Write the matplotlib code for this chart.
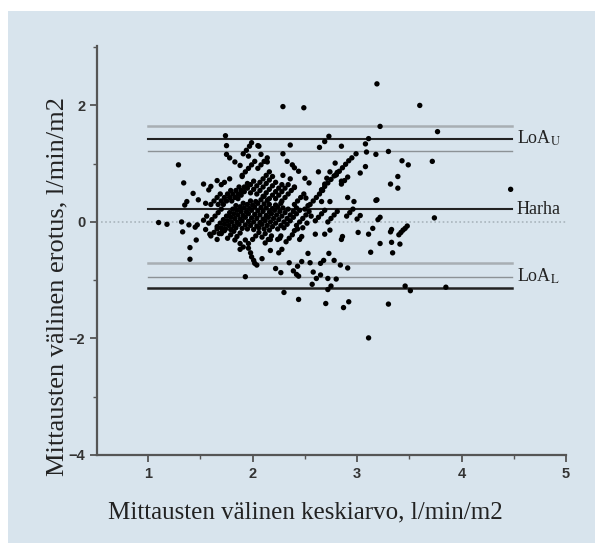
import matplotlib
matplotlib.use("Agg")
import matplotlib.pyplot as plt
from matplotlib.patches import Rectangle
from matplotlib.ticker import MultipleLocator

plt.rcParams['mathtext.fontset'] = 'stix'

# ---- data -------------------------------------------------------------
# sparse / outlying points (mean, difference)
pts_sparse = [
    (3.19, 2.37), (2.29, 1.98), (2.49, 1.96), (3.60, 2.00), (3.22, 1.64), (3.77, 1.55),
    (1.74, 1.48), (3.30, 1.21), (3.43, 1.05), (3.49, 0.98), (3.72, 1.04), (3.39, 0.78),
    (3.32, 0.65), (3.39, 0.58), (4.47, 0.56), (3.74, 0.07), (3.19, 0.38), (3.32, -0.17),
    (3.33, -0.13), (3.40, -0.22), (3.42, -0.18), (3.44, -0.14), (3.46, -0.11), (3.48, -0.07),
    (3.33, -0.35), (3.41, -0.38), (3.34, -0.53), (3.46, -1.10), (3.51, -1.18), (3.85, -1.12),
    (3.30, -1.41), (3.11, -1.99), (2.30, -1.21), (2.44, -1.33), (2.70, -1.40), (2.87, -1.47),
    (2.92, -1.37), (2.72, -1.16), (2.75, -1.10), (2.57, -1.07), (2.61, -0.97), (2.65, -0.91),
    (2.72, -0.97), (2.80, -0.98), (2.44, -0.93), (2.42, -0.90), (2.39, -0.84), (2.43, -0.76),
    (2.47, -0.68), (2.53, -0.54), (2.35, -0.70), (2.22, -0.80), (2.27, -0.87), (2.55, -0.70),
    (2.58, -0.86), (2.65, -0.71), (2.68, -0.66), (2.73, -0.54), (2.78, -0.66), (2.84, -0.74),
    (2.91, -0.79), (2.02, -0.71), (2.09, -0.63), (2.17, -0.49), (2.25, -0.53), (2.28, -0.47),
    (2.26, -0.28), (2.17, -0.30), (2.45, -0.30), (2.47, -0.25), (2.60, -0.21), (2.69, -0.21),
    (2.74, -0.14), (2.85, -0.30), (2.86, -0.25), (3.01, -0.18), (3.11, -0.21), (3.15, -0.11),
    (3.22, -0.37), (3.13, -0.52), (3.20, 0.04), (3.22, 0.08),
]
pts_left = [
    (1.10, -0.01), (1.18, -0.04), (1.32, 0.00), (1.39, -0.05), (1.33, -0.17), (1.46, -0.31),
    (1.40, -0.44), (1.40, -0.64), (1.45, -0.09), (1.47, -0.05), (1.53, 0.03), (1.56, 0.10),
    (1.55, -0.13), (1.59, -0.21), (1.66, -0.30), (1.70, -0.20), (1.73, -0.15), (1.83, -0.31),
    (1.88, -0.37), (1.88, -0.47), (1.91, -0.43), (1.96, -0.45), (1.98, -0.53), (1.99, -0.60),
    (2.01, -0.66), (2.04, -0.74), (1.93, -0.94), (1.93, -0.31), (1.96, -0.37),
    (1.75, 1.31), (1.75, 1.16), (1.78, 1.10), (1.83, 1.03), (1.88, 0.97), (1.29, 0.98),
    (1.34, 0.67), (1.53, 0.65), (1.58, 0.55), (1.60, 0.61), (1.66, 0.71), (1.70, 0.64),
    (1.73, 0.68), (1.78, 0.74), (1.43, 0.49), (1.48, 0.38), (1.37, 0.35), (1.35, 0.29),
    (1.55, 0.32), (1.90, 0.78), (1.91, 1.17), (1.94, 1.23), (1.97, 1.30), (1.99, 1.36),
    (1.96, 1.13), (2.05, 1.31),
]
pts_upper = [
    (2.73, 1.47), (2.69, 1.38), (2.64, 1.28), (2.85, 1.30), (3.11, 1.43), (3.08, 1.34),
    (3.09, 1.20), (3.18, 1.16), (2.06, 1.30), (2.36, 1.32), (2.08, 1.16), (2.29, 1.17),
    (2.33, 1.04), (2.38, 0.98), (2.40, 0.93), (2.14, 1.03), (2.44, 0.87), (2.29, 0.80),
    (2.36, 0.74), (2.50, 0.75), (2.54, 0.67), (2.40, 0.59), (2.63, 0.86), (2.66, 0.55),
    (2.69, 0.65), (2.71, 0.75), (2.74, 0.86), (2.79, 1.01), (2.80, 0.81), (2.85, 0.70),
    (2.99, 1.17), (3.03, 0.84), (3.08, 0.95), (3.18, 0.37), (2.91, 0.42), (2.97, 0.35),
    (2.66, 0.35), (2.51, 0.41), (2.74, 0.35),
]
pts_core = [
    (1.58, -0.02), (1.61, 0.04), (1.64, 0.10), (1.67, 0.16), (1.70, 0.22),
    (1.66, -0.08), (1.69, -0.02), (1.72, 0.04), (1.75, 0.10), (1.78, 0.16), (1.81, 0.22), (1.84, 0.28),
    (1.74, -0.12), (1.77, -0.06), (1.80, 0.00), (1.83, 0.06), (1.86, 0.12), (1.89, 0.18), (1.92, 0.24),
    (1.95, 0.30), (1.98, 0.36),
    (1.84, -0.10), (1.87, -0.04), (1.90, 0.02), (1.93, 0.08), (1.96, 0.14), (1.99, 0.20), (2.02, 0.26),
    (2.05, 0.32), (2.08, 0.38), (2.11, 0.44),
    (1.95, -0.12), (1.98, -0.06), (2.01, 0.00), (2.04, 0.06), (2.07, 0.12), (2.10, 0.18), (2.13, 0.24),
    (2.16, 0.30),
    (2.06, -0.10), (2.09, -0.04), (2.12, 0.02), (2.15, 0.08), (2.18, 0.14), (2.21, 0.20), (2.24, 0.26),
    (2.27, 0.32),
    (2.16, -0.14), (2.19, -0.08), (2.22, -0.02), (2.25, 0.04), (2.28, 0.10), (2.31, 0.16), (2.34, 0.22),
    (2.30, -0.10), (2.33, -0.04), (2.36, 0.02), (2.39, 0.08), (2.42, 0.14), (2.45, 0.20),
    (2.42, -0.06), (2.45, 0.00), (2.48, 0.06), (2.51, 0.12), (2.54, 0.18),
    (1.60, 0.30), (1.63, 0.36), (1.66, 0.42), (1.69, 0.48),
    (1.72, 0.30), (1.75, 0.36), (1.78, 0.42), (1.81, 0.48), (1.84, 0.54), (1.87, 0.60),
    (1.86, 0.40), (1.89, 0.46), (1.92, 0.52), (1.95, 0.58), (1.98, 0.64), (2.01, 0.70),
    (1.98, 0.50), (2.01, 0.56), (2.04, 0.62), (2.07, 0.68), (2.10, 0.74), (2.13, 0.80), (2.16, 0.86),
    (2.10, 0.44), (2.13, 0.50), (2.16, 0.56), (2.19, 0.62), (2.22, 0.68),
    (2.22, 0.40), (2.25, 0.46), (2.28, 0.52), (2.31, 0.58), (2.34, 0.64),
    (1.90, 0.80), (1.93, 0.86), (1.96, 0.92), (1.99, 0.98), (2.02, 1.04),
    (2.05, 0.92), (2.08, 0.98), (2.11, 1.04), (2.14, 1.10),
    (1.60, -0.24), (1.63, -0.18), (1.66, -0.12),
    (1.76, -0.28), (1.79, -0.22), (1.82, -0.16),
    (2.00, -0.30), (2.03, -0.24), (2.06, -0.18),
    (2.12, -0.36), (2.15, -0.30), (2.18, -0.24),
    (2.32, -0.34), (2.35, -0.28), (2.38, -0.22),
    (2.55, 0.30), (2.58, 0.36), (2.61, 0.42), (2.64, 0.48), (2.67, 0.54),
    (2.66, 0.55), (2.69, 0.61), (2.72, 0.67), (2.75, 0.73), (2.78, 0.79), (2.81, 0.85),
    (2.80, 0.81), (2.83, 0.87), (2.86, 0.93), (2.89, 0.99), (2.92, 1.05), (2.95, 1.10),
    (2.85, 0.65), (2.88, 0.71), (2.91, 0.77),
    (2.60, 0.02), (2.63, 0.08), (2.66, 0.14), (2.69, 0.20),
    (2.72, 0.00), (2.75, 0.06), (2.78, 0.12), (2.81, 0.18),
    (2.90, 0.10), (2.93, 0.16), (2.96, 0.22),
    (3.00, 0.05), (3.03, 0.11),
]
pts_core_fill = [
    (1.70, -0.10), (1.73, -0.04), (1.76, 0.02), (1.79, 0.08), (1.82, 0.14), (1.85, 0.20), (1.88, 0.26),
    (1.91, 0.32),
    (1.79, -0.13), (1.82, -0.07), (1.85, -0.01), (1.88, 0.05), (1.91, 0.11), (1.94, 0.17), (1.97, 0.23),
    (2.00, 0.29), (2.03, 0.35),
    (1.90, -0.11), (1.93, -0.05), (1.96, 0.01), (1.99, 0.07), (2.02, 0.13), (2.05, 0.19), (2.08, 0.25),
    (2.11, 0.31), (2.14, 0.37),
    (2.01, -0.13), (2.04, -0.07), (2.07, -0.01), (2.10, 0.05), (2.13, 0.11), (2.16, 0.17), (2.19, 0.23),
    (2.22, 0.29),
    (2.11, -0.12), (2.14, -0.06), (2.17, 0.00), (2.20, 0.06), (2.23, 0.12), (2.26, 0.18), (2.29, 0.24),
    (2.24, -0.12), (2.27, -0.06), (2.30, 0.00), (2.33, 0.06), (2.36, 0.12), (2.39, 0.18), (2.42, 0.24),
    (1.67, 0.30), (1.70, 0.36), (1.73, 0.42), (1.76, 0.48), (1.79, 0.54),
    (1.80, 0.36), (1.83, 0.42), (1.86, 0.48), (1.89, 0.54), (1.92, 0.60), (1.95, 0.66),
    (2.04, 0.48), (2.07, 0.54), (2.10, 0.60), (2.13, 0.66), (2.16, 0.72), (2.19, 0.78),
    (2.16, 0.40), (2.19, 0.46), (2.22, 0.52), (2.25, 0.58), (2.28, 0.64),
    (2.28, 0.36), (2.31, 0.42), (2.34, 0.48), (2.37, 0.54), (2.40, 0.60),
    (2.40, 0.30), (2.43, 0.36), (2.46, 0.42), (2.49, 0.48),
    (1.68, -0.20), (1.71, -0.14), (1.85, -0.25), (1.88, -0.19), (2.09, -0.26), (2.12, -0.20),
    (2.24, -0.30), (2.27, -0.24), (2.40, -0.15), (2.43, -0.12),
    (2.50, 0.22), (2.53, 0.28), (2.56, 0.10), (2.48, -0.10), (2.52, -0.02),
]

bias = 0.22
loa_upper = [1.655, 1.43, 1.21]   # upper CI, LoA_U, lower CI
loa_lower = [-0.71, -0.94, -1.14]
line_x = [1.0, 4.48]
line_labels = ["LoA$_{\\rm U}$", "Harha", "LoA$_{\\rm L}$"]
label_y = [1.43, 0.22, -0.94]

x_ticks = [1, 2, 3, 4, 5]
y_ticks = [-4, -2, 0, 2]
xlabel = "Mittausten välinen keskiarvo, l/min/m2"
ylabel = "Mittausten välinen erotus, l/min/m2"

# ---- figure -----------------------------------------------------------
W, H = 595, 543
fig = plt.figure(figsize=(W / 100, H / 100), dpi=100)
fig.patch.set_facecolor('white')
fig.patches.append(Rectangle((8 / W, 0), 1 - 8 / W, 1 - 11 / H, transform=fig.transFigure,
                             facecolor='#d8e4ed', edgecolor='none', zorder=-5))

ax = fig.add_axes([97 / W, 1 - 455 / H, (566 - 97) / W, (455 - 46) / H])
ax.set_zorder(2)
ax.set_facecolor('none')
ax.set_xlim(0.51, 5.0)
ax.set_ylim(-4, 3.02)

# zero dotted line
ax.plot([0.55, 5.0], [0, 0], color='#a9b4bc', lw=1.2, ls=(0, (1, 1.5)), zorder=1)

# limits of agreement with CIs
light, mid, dark = '#a8aeb3', '#8c9296', '#222222'
ax.plot(line_x, [loa_upper[0]] * 2, color=light, lw=1.8, zorder=2)
ax.plot(line_x, [loa_upper[1]] * 2, color=dark, lw=1.5, zorder=2)
ax.plot(line_x, [loa_upper[2]] * 2, color=mid, lw=1.0, zorder=2)
ax.plot(line_x, [bias] * 2, color=dark, lw=1.5, zorder=2)
ax.plot(line_x, [loa_lower[0]] * 2, color=light, lw=1.8, zorder=2)
ax.plot(line_x, [loa_lower[1]] * 2, color=mid, lw=1.0, zorder=2)
ax.plot(line_x, [loa_lower[2]] * 2, color=dark, lw=1.8, zorder=2)

allpts = pts_sparse + pts_left + pts_upper + pts_core + pts_core_fill
xs = [p[0] for p in allpts]
ys = [p[1] for p in allpts]
ax.scatter(xs, ys, s=15, color='black', edgecolors='none', zorder=3)

for lab, yy in zip(line_labels, label_y):
    ax.text(4.53, yy, lab, fontsize=13, family='Liberation Serif', color='#222222',
            va='center', ha='left')

for s in ['top', 'right']:
    ax.spines[s].set_visible(False)
for s in ['left', 'bottom']:
    ax.spines[s].set_color('#555555')
    ax.spines[s].set_linewidth(1.6)

ax.set_xticks(x_ticks)
ax.set_yticks(y_ticks)
ax.xaxis.set_minor_locator(MultipleLocator(0.5))
ax.yaxis.set_minor_locator(MultipleLocator(1))
ax.tick_params(which='major', length=5, width=1.3, color='#555555', direction='out',
               labelsize=10.5, labelcolor='#333333')
ax.tick_params(which='minor', length=3, width=1.0, color='#555555', direction='out')
for lab in ax.get_xticklabels() + ax.get_yticklabels():
    lab.set_family('Liberation Sans')
    lab.set_fontweight('bold')

fig.text(305 / W, 1 - 512 / H, xlabel, fontsize=18, family='Liberation Serif',
         ha='center', va='center', color='#222222')
fig.text(57 / W, 1 - 287 / H, ylabel, fontsize=19, family='Liberation Serif',
         ha='center', va='center', rotation=90, color='#222222')

fig.savefig('out.png', dpi=100, facecolor=fig.get_facecolor())
